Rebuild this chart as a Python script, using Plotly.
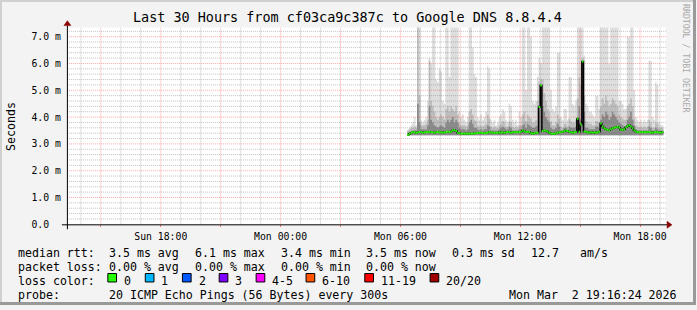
import pandas as pd
import plotly.graph_objects as go

# ---------------- data ----------------
start_time = "2026-03-02 06:20"
step_seconds = 300

median_ms = [
    3.33, 3.38, 3.42, 3.43, 3.43, 3.42,
    3.43, 3.44, 3.43, 3.42, 3.43, 3.43,
    3.44, 3.45, 3.43, 3.43, 3.42, 3.43,
    3.44, 3.43, 3.43, 3.42, 3.43, 3.44,
    3.45, 3.44, 3.46, 3.50, 3.52, 3.48,
    3.42, 3.40, 3.38, 3.38, 3.38, 3.39,
    3.38, 3.39, 3.38, 3.38, 3.40, 3.40,
    3.41, 3.42, 3.42, 3.41, 3.40, 3.41,
    3.42, 3.43, 3.43, 3.42, 3.41, 3.42,
    3.42, 3.43, 3.42, 3.43, 3.42, 3.43,
    3.44, 3.43, 3.42, 3.43, 3.43, 3.44,
    3.43, 3.44, 3.45, 3.50, 3.47, 3.44,
    3.45, 3.44, 3.40, 3.38, 3.40, 3.42,
    3.42, 4.38, 5.18, 3.48, 3.50, 3.49,
    3.46, 3.42, 3.39, 3.38, 3.38, 3.40,
    3.42, 3.43, 3.43, 3.45, 3.47, 3.50,
    3.48, 3.45, 3.43, 3.42, 3.43, 3.44,
    3.94, 3.45, 3.72, 6.07, 3.45, 3.45,
    3.43, 3.42, 3.43, 3.42, 3.43, 3.42,
    3.43, 3.45, 3.76, 3.65, 3.58, 3.55,
    3.53, 3.51, 3.55, 3.58, 3.60, 3.62,
    3.64, 3.60, 3.54, 3.52, 3.55, 3.62,
    3.66, 3.70, 3.65, 3.58, 3.50, 3.46,
    3.44, 3.43, 3.43, 3.44, 3.43, 3.43,
    3.43, 3.44, 3.43, 3.42, 3.43, 3.44,
    3.43, 3.43, 3.42, 3.43,
]

smoke_max_ms = [
    3.5, 3.6, 3.7, 3.8, 4.0, 3.7,
    7.5, 7.5, 3.9, 3.8, 3.9, 4.0,
    4.6, 6.2, 6.0, 7.5, 7.5, 5.4,
    5.3, 5.8, 5.7, 4.6, 4.5, 7.5,
    7.5, 5.5, 7.5, 7.5, 7.5, 7.5,
    7.5, 4.2, 4.0, 4.1, 3.9, 3.8,
    4.0, 7.5, 7.5, 6.6, 5.6, 5.5,
    4.0, 3.9, 4.1, 3.9, 4.0, 4.2,
    5.9, 5.8, 3.9, 3.8, 3.9, 3.7,
    3.8, 4.0, 4.1, 4.3, 4.2, 3.9,
    3.8, 4.5, 4.4, 3.9, 3.8, 3.9,
    3.7, 4.2, 4.0, 7.5, 7.5, 5.0,
    7.5, 7.5, 7.0, 4.6, 4.5, 4.6,
    5.5, 6.2, 6.0, 7.5, 7.5, 7.5,
    7.5, 7.5, 5.0, 4.3, 4.2, 4.4,
    6.4, 6.4, 4.0, 3.9, 4.3, 4.3,
    3.9, 5.5, 5.5, 4.5, 4.4, 4.6,
    7.5, 7.5, 7.5, 7.5, 6.3, 4.5,
    4.4, 4.2, 4.2, 4.1, 4.0, 4.8,
    4.8, 4.3, 7.5, 7.5, 7.5, 7.5,
    7.5, 6.0, 7.5, 7.5, 7.5, 7.5,
    7.5, 4.6, 4.6, 4.5, 4.3, 4.3,
    7.0, 7.0, 7.5, 7.5, 5.0, 4.0,
    3.9, 3.8, 3.9, 3.8, 3.9, 3.8,
    3.9, 6.1, 6.1, 4.0, 3.9, 5.3,
    5.2, 3.8, 3.7, 3.7,
]

smoke_mid_ms = [
    3.5, 3.55, 3.6, 3.6, 3.65, 3.6,
    7.5, 4.8, 3.7, 3.7, 3.7, 3.75,
    3.9, 6.1, 4.6, 4.4, 4.2, 4.0,
    3.9, 4.0, 4.1, 4.0, 3.9, 4.3,
    4.4, 4.2, 4.4, 4.3, 4.2, 4.4,
    4.1, 3.75, 3.7, 3.7, 3.7, 3.65,
    3.7, 4.2, 4.3, 4.1, 3.9, 3.85,
    3.7, 3.65, 3.7, 3.65, 3.7, 3.75,
    4.1, 3.95, 3.65, 3.6, 3.65, 3.6,
    3.6, 3.7, 3.75, 3.85, 3.8, 3.65,
    3.65, 3.85, 3.8, 3.65, 3.6, 3.65,
    3.6, 3.7, 3.7, 4.1, 4.2, 3.85,
    4.1, 4.0, 3.95, 3.8, 3.8, 3.9,
    4.6, 5.3, 5.4, 5.4, 4.9, 4.6,
    4.3, 4.2, 3.85, 3.7, 3.7, 3.8,
    4.1, 3.95, 3.65, 3.6, 3.75, 3.75,
    3.65, 3.95, 3.85, 3.8, 3.8, 3.9,
    4.7, 5.5, 5.2, 6.2, 4.8, 3.85,
    3.8, 3.75, 3.75, 3.7, 3.7, 3.85,
    3.85, 3.8, 4.4, 4.7, 4.5, 4.8,
    4.6, 4.4, 4.5, 4.7, 4.6, 4.5,
    4.4, 4.1, 4.0, 3.95, 3.9, 3.9,
    4.4, 4.5, 4.7, 4.4, 3.95, 3.7,
    3.65, 3.6, 3.65, 3.6, 3.65, 3.6,
    3.65, 3.9, 3.8, 3.6, 3.6, 3.8,
    3.75, 3.6, 3.6, 3.6,
]

smoke_dark_ms = [
    3.4, 3.45, 3.45, 3.5, 3.5, 3.5,
    4.5, 3.8, 3.55, 3.55, 3.55, 3.55,
    3.7, 4.4, 3.9, 3.8, 3.7, 3.65,
    3.6, 3.65, 3.7, 3.65, 3.6, 3.8,
    3.9, 3.8, 3.9, 4.0, 3.8, 3.9,
    3.8, 3.6, 3.55, 3.55, 3.55, 3.5,
    3.55, 3.8, 3.9, 3.75, 3.6, 3.6,
    3.55, 3.5, 3.55, 3.5, 3.55, 3.55,
    3.7, 3.65, 3.5, 3.5, 3.5, 3.5,
    3.5, 3.55, 3.6, 3.65, 3.6, 3.55,
    3.55, 3.65, 3.6, 3.5, 3.5, 3.5,
    3.5, 3.55, 3.55, 3.7, 3.75, 3.6,
    3.75, 3.7, 3.65, 3.6, 3.6, 3.65,
    3.7, 4.45, 5.2, 4.4, 4.2, 4.0,
    3.9, 3.8, 3.6, 3.55, 3.55, 3.6,
    3.75, 3.65, 3.5, 3.5, 3.6, 3.6,
    3.5, 3.65, 3.6, 3.6, 3.6, 3.65,
    4.0, 4.4, 3.9, 6.0, 4.2, 3.6,
    3.6, 3.55, 3.55, 3.55, 3.55, 3.65,
    3.65, 3.6, 3.9, 4.1, 4.0, 4.2,
    4.1, 3.9, 4.0, 4.2, 4.1, 4.0,
    3.9, 3.8, 3.75, 3.7, 3.65, 3.65,
    3.9, 4.0, 4.2, 3.9, 3.7, 3.55,
    3.5, 3.5, 3.5, 3.5, 3.5, 3.5,
    3.5, 3.65, 3.6, 3.5, 3.5, 3.6,
    3.55, 3.5, 3.5, 3.5,
]

smoke_floor_ms = 3.32

x_range = ["2026-03-01 13:18", "2026-03-02 19:18"]
x_tick_times = ["2026-03-01 15:00", "2026-03-01 18:00", "2026-03-01 21:00",
                "2026-03-02 00:00", "2026-03-02 03:00", "2026-03-02 06:00",
                "2026-03-02 09:00", "2026-03-02 12:00", "2026-03-02 15:00",
                "2026-03-02 18:00"]
x_tick_labels = ["", "Sun 18:00", "", "Mon 00:00", "", "Mon 06:00", "",
                 "Mon 12:00", "", "Mon 18:00"]
x_minor_start = "2026-03-01 14:00"
x_minor_end = "2026-03-02 19:00"
y_tick_values = [0, 1, 2, 3, 4, 5, 6, 7]
y_tick_labels = ["0.0\u00a0\u00a0", "1.0 m", "2.0 m", "3.0 m", "4.0 m",
                 "5.0 m", "6.0 m", "7.0 m"]
y_minor_step = 0.2
y_max = 7.34

title_text = "Last 30 Hours from cf03ca9c387c to Google DNS 8.8.4.4"
y_title = "Seconds"
watermark = "RRDTOOL / TOBI OETIKER"
median_head = "median rtt:"
median_stats = ["3.5 ms avg", "6.1 ms max", "3.4 ms min", "3.5 ms now",
                "0.3 ms sd", "12.7", "am/s"]
loss_head = "packet loss:"
loss_stats = ["0.00 % avg", "0.00 % max", "0.00 % min", "0.00 % now"]
color_head = "loss color:"
loss_labels = ["0", "1", "2", "3", "4-5", "6-10", "11-19", "20/20"]
loss_colors = ["#26ff00", "#00b8ff", "#0059ff", "#7e00ff", "#ff00ff",
               "#ff5500", "#ff0000", "#a10000"]
probe_head = "probe:"
probe_text = "20 ICMP Echo Pings (56 Bytes) every 300s"
timestamp_text = "Mon Mar  2 19:16:24 2026"

# ---------------- figure ----------------
W, H = 697, 310
def PX(x):
    return x / W
def PY(y):
    return 1 - y / H

times = list(pd.date_range(start_time, periods=len(median_ms) + 1,
                           freq=f"{step_seconds}s"))

def stepped(vals):
    return list(vals) + [vals[-1]]

fig = go.Figure()

# smoke
smoke_layers = [(smoke_max_ms, "#dedede"), (smoke_mid_ms, "#bdbdbd"),
                (smoke_dark_ms, "#8a8a8a")]
for vals, col in smoke_layers:
    fig.add_trace(go.Scatter(x=times, y=[smoke_floor_ms] * len(times),
                             mode="lines", line=dict(width=0, shape="hv"),
                             hoverinfo="skip", showlegend=False))
    fig.add_trace(go.Scatter(x=times, y=stepped(vals), mode="lines",
                             line=dict(width=0, shape="hv"), fill="tonexty",
                             fillcolor=col, hoverinfo="skip", showlegend=False))

# grid (drawn over the smoke, under the median line)
major_grid = "rgba(255,0,0,0.35)"
minor_grid = "rgba(110,110,110,0.42)"
major_times = set(pd.to_datetime(x_tick_times))
hours = [t for t in pd.date_range(x_minor_start, x_minor_end, freq="1h")
         if t not in major_times]
n_minor = int(round(y_max / y_minor_step))
ys_minor = [round(k * y_minor_step, 3) for k in range(1, n_minor + 1)
            if abs(k * y_minor_step - round(k * y_minor_step)) > 1e-6]
ys_major = [v for v in y_tick_values if v > 0]

def grid_trace(xs, ys, color):
    fig.add_trace(go.Scatter(x=xs, y=ys, mode="lines", connectgaps=False,
                             line=dict(color=color, width=1, dash="1px,1px"),
                             hoverinfo="skip", showlegend=False))

vx, vy = [], []
for t in hours:
    vx += [t, t, None]
    vy += [0, y_max, None]
hx, hy = [], []
for v in ys_minor:
    hx += [x_range[0], x_range[1], None]
    hy += [v, v, None]
grid_trace(vx + hx, vy + hy, minor_grid)
vx, vy = [], []
for t in pd.to_datetime(x_tick_times):
    vx += [t, t, None]
    vy += [0, y_max, None]
hx, hy = [], []
for v in ys_major:
    hx += [x_range[0], x_range[1], None]
    hy += [v, v, None]
grid_trace(vx + hx, vy + hy, major_grid)

# median: black transitions, green steps
fig.add_trace(go.Scatter(x=times, y=stepped(median_ms), mode="lines",
                         line=dict(color="#000000", width=1.5, shape="hv"),
                         hoverinfo="skip", showlegend=False))
gx, gy = [], []
for i, m in enumerate(median_ms):
    gx += [times[i], times[i + 1], None]
    gy += [m, m, None]
fig.add_trace(go.Scatter(x=gx, y=gy, mode="lines",
                         line=dict(color=loss_colors[0], width=2),
                         connectgaps=False, hoverinfo="skip", showlegend=False))

mono = "DejaVu Sans Mono"

fig.update_layout(
    width=W, height=H, autosize=False,
    margin=dict(l=0, r=0, t=0, b=0),
    paper_bgcolor="#f3f3f3", plot_bgcolor="#ffffff",
    showlegend=False,
    font=dict(family=mono, color="#000000"),
    xaxis=dict(
        domain=[PX(67), PX(667)], type="date", range=x_range,
        tickmode="array", tickvals=x_tick_times, ticktext=x_tick_labels,
        showgrid=False,
        ticks="outside", ticklen=2, tickcolor="rgba(255,0,0,0.5)",
        tickfont=dict(family=mono, size=9.8, color="#000000"),
        showline=False, zeroline=False,
        ticklabelstandoff=1,
    ),
    yaxis=dict(
        domain=[PY(228), PY(28)], range=[0, y_max],
        tickmode="array", tickvals=y_tick_values, ticktext=y_tick_labels,
        showgrid=False,
        ticks="", tickfont=dict(family=mono, size=9.8, color="#000000"),
        showline=False, zeroline=False,
        ticklabelstandoff=5,
    ),
)

shapes = []
# frame (3D border)
shapes.append(dict(type="rect", xref="paper", yref="paper", x0=0, x1=1,
                   y0=PY(2), y1=1, fillcolor="#d0d0d0", line_width=0))
shapes.append(dict(type="rect", xref="paper", yref="paper", x0=0, x1=PX(2),
                   y0=0, y1=1, fillcolor="#d0d0d0", line_width=0))
shapes.append(dict(type="rect", xref="paper", yref="paper", x0=0, x1=1,
                   y0=0, y1=PY(307), fillcolor="#999999", line_width=0))
shapes.append(dict(type="rect", xref="paper", yref="paper", x0=PX(694), x1=1,
                   y0=0, y1=1, fillcolor="#999999", line_width=0))
# axis lines
shapes.append(dict(type="line", xref="paper", yref="paper", x0=PX(62),
                   x1=PX(668), y0=PY(228.5), y1=PY(228.5),
                   line=dict(color="#000000", width=1), layer="above"))
shapes.append(dict(type="line", xref="paper", yref="paper", x0=PX(67.5),
                   x1=PX(67.5), y0=PY(233), y1=PY(26),
                   line=dict(color="#000000", width=1), layer="above"))
# arrow heads
shapes.append(dict(type="path", xref="paper", yref="paper",
                   path=f"M {PX(64)} {PY(26)} L {PX(71)} {PY(26)} L {PX(67.5)} {PY(21)} Z",
                   fillcolor="#8b0000", line=dict(color="#8b0000", width=0.5),
                   layer="above"))
shapes.append(dict(type="path", xref="paper", yref="paper",
                   path=f"M {PX(668)} {PY(225)} L {PX(668)} {PY(232)} L {PX(673)} {PY(228.5)} Z",
                   fillcolor="#8b0000", line=dict(color="#8b0000", width=0.5),
                   layer="above"))

ann = []
def txt(x, y, s, size=11.6, anchor="left", color="#000000", angle=0):
    ann.append(dict(x=PX(x), y=PY(y), xref="paper", yref="paper",
                    text=s.replace("  ", "\u00a0\u00a0"), showarrow=False,
                    xanchor=anchor, yanchor="middle", textangle=angle,
                    font=dict(family=mono, size=size, color=color)))

txt(348, 18, title_text, size=13.45, anchor="center")
txt(11, 128, y_title, size=11.6, anchor="center", angle=-90)
txt(687, 59, watermark, size=8.2, anchor="center", color="#a8a8a8", angle=90)

rows_y = [256.8, 271.1, 285.3, 299.6]
stat_x = [107.3, 193.3, 279.3, 365.0, 451.0, 530.0, 579.3]
txt(16, rows_y[0], median_head)
for s, x in zip(median_stats, stat_x):
    txt(x, rows_y[0], s)
txt(16, rows_y[1], loss_head)
for s, x in zip(loss_stats, stat_x):
    txt(x, rows_y[1], s)
txt(16, rows_y[2], color_head)
box_x = [108.0, 145.5, 182.7, 219.5, 256.5, 306.5, 365.3, 430.7]
box_cy = rows_y[2] - 3.0
for lab, col, bx in zip(loss_labels, loss_colors, box_x):
    shapes.append(dict(type="rect", xref="paper", yref="paper",
                       x0=PX(bx), x1=PX(bx + 8.7), y0=PY(box_cy + 4.3),
                       y1=PY(box_cy - 4.3), fillcolor=col,
                       line=dict(color="#000000", width=1)))
    txt(bx + 14.2, rows_y[2], lab)
txt(16, rows_y[3], probe_head)
txt(107.3, rows_y[3], probe_text)
txt(680, rows_y[3], timestamp_text, anchor="right")

fig.update_layout(shapes=shapes, annotations=ann)
fig.write_html("out.html")
